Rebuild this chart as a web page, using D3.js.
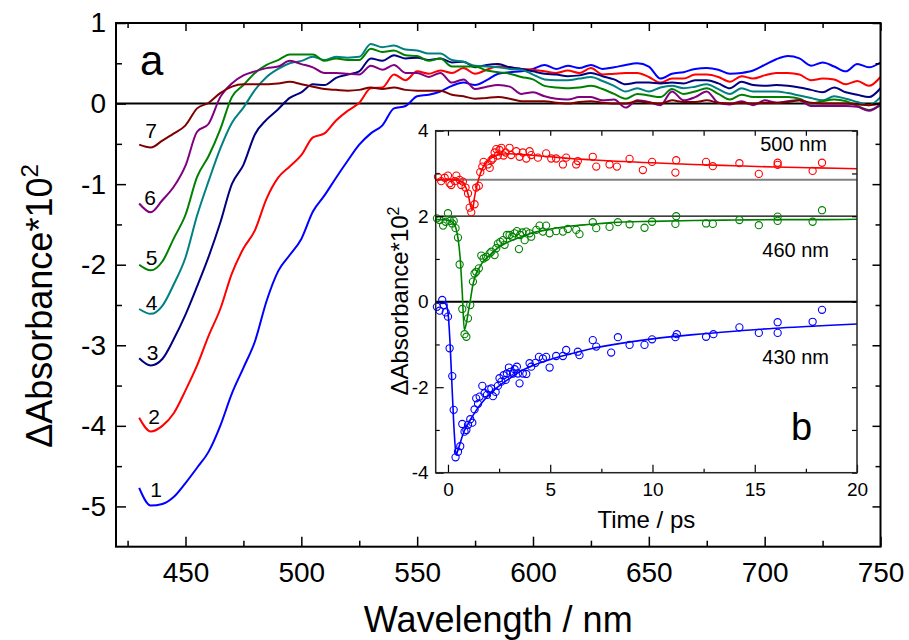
<!DOCTYPE html>
<html><head><meta charset="utf-8">
<script src="https://cdn.jsdelivr.net/npm/d3@7/dist/d3.min.js"></script>
<style>
body{margin:0;background:#fff}
text{font-family:"Liberation Sans",Arial,sans-serif;fill:#000}
</style>
</head><body>
<svg id="c" width="909" height="640"></svg>
<script>
// ---------- main panel (a) data ----------
const wavelengths = [430,435,440,445,450,455,460,465,470,475,480,485,490,495,500,505,510,515,520,525,530,535,540,545,550,555,560,565,570,575,580,585,590,595,600,605,610,615,620,625,630,635,640,645,650,655,660,665,670,675,680,685,690,695,700,705,710,715,720,725,730,735,740,745,750];
const spectrum1 = [-4.77,-4.99,-4.97,-4.88,-4.71,-4.52,-4.32,-4.00,-3.60,-3.28,-2.95,-2.45,-2.08,-1.88,-1.68,-1.34,-1.14,-0.92,-0.71,-0.51,-0.37,-0.27,-0.06,-0.03,0.09,0.11,0.15,0.22,0.26,0.23,0.29,0.37,0.39,0.40,0.43,0.48,0.43,0.47,0.44,0.48,0.43,0.45,0.48,0.50,0.46,0.31,0.37,0.39,0.43,0.44,0.42,0.37,0.38,0.41,0.48,0.55,0.59,0.56,0.47,0.51,0.46,0.40,0.49,0.45,0.51];
const spectrum2 = [-3.90,-4.07,-4.00,-3.84,-3.56,-3.25,-2.88,-2.55,-2.11,-1.80,-1.57,-1.18,-0.92,-0.78,-0.64,-0.42,-0.37,-0.21,-0.09,0.01,0.19,0.20,0.36,0.29,0.40,0.37,0.41,0.38,0.44,0.37,0.42,0.46,0.45,0.43,0.42,0.40,0.38,0.41,0.38,0.44,0.36,0.37,0.38,0.38,0.33,0.26,0.31,0.31,0.36,0.36,0.33,0.27,0.34,0.31,0.35,0.38,0.38,0.36,0.29,0.31,0.30,0.24,0.28,0.22,0.33];
const spectrum3 = [-3.16,-3.25,-3.17,-2.92,-2.62,-2.27,-1.90,-1.48,-1.00,-0.76,-0.38,-0.20,-0.07,0.07,0.14,0.24,0.23,0.32,0.36,0.40,0.56,0.53,0.60,0.56,0.57,0.54,0.56,0.51,0.52,0.45,0.48,0.49,0.45,0.43,0.40,0.37,0.36,0.34,0.35,0.38,0.34,0.30,0.24,0.26,0.26,0.25,0.26,0.25,0.29,0.29,0.25,0.19,0.27,0.23,0.22,0.23,0.22,0.20,0.17,0.14,0.20,0.14,0.11,0.08,0.19];
const spectrum4 = [-2.55,-2.61,-2.51,-2.24,-1.91,-1.39,-0.96,-0.56,-0.24,-0.05,0.17,0.33,0.43,0.50,0.53,0.58,0.54,0.58,0.57,0.58,0.74,0.70,0.72,0.67,0.66,0.62,0.62,0.54,0.52,0.47,0.46,0.45,0.43,0.42,0.36,0.30,0.29,0.29,0.31,0.33,0.28,0.22,0.15,0.19,0.15,0.20,0.22,0.19,0.21,0.24,0.18,0.12,0.19,0.15,0.15,0.15,0.13,0.10,0.07,0.04,0.09,0.06,0.02,-0.02,0.08];
const spectrum5 = [-2.00,-2.07,-1.96,-1.67,-1.38,-0.91,-0.65,-0.32,0.08,0.23,0.38,0.48,0.54,0.61,0.61,0.61,0.53,0.56,0.54,0.54,0.68,0.64,0.66,0.60,0.59,0.53,0.56,0.46,0.46,0.46,0.41,0.39,0.37,0.33,0.30,0.22,0.20,0.19,0.20,0.22,0.18,0.12,0.06,0.12,0.10,0.08,0.18,0.12,0.15,0.19,0.12,0.05,0.11,0.08,0.08,0.08,0.08,0.06,0.00,0.03,0.05,0.03,-0.03,-0.08,-0.02];
const spectrum6 = [-1.24,-1.35,-1.20,-1.03,-0.77,-0.35,-0.25,0.08,0.25,0.35,0.40,0.44,0.46,0.53,0.49,0.45,0.38,0.38,0.37,0.36,0.47,0.42,0.48,0.38,0.38,0.33,0.38,0.26,0.30,0.18,0.21,0.23,0.21,0.12,0.14,0.09,0.06,0.05,0.08,0.08,0.04,0.05,-0.05,0.04,0.02,-0.02,0.15,0.04,0.08,0.15,0.01,-0.01,0.03,-0.02,0.04,0.01,0.03,0.04,-0.03,-0.03,-0.03,-0.03,-0.04,-0.09,-0.01];
const spectrum7 = [-0.51,-0.545,-0.46,-0.37,-0.27,-0.06,0.01,0.13,0.21,0.24,0.24,0.24,0.25,0.27,0.24,0.21,0.18,0.17,0.16,0.17,0.20,0.18,0.20,0.17,0.16,0.16,0.16,0.11,0.09,0.06,0.07,0.08,0.06,0.03,0.03,0.03,0.01,0.00,0.02,0.03,0.01,0.00,0.00,0.03,0.01,0.00,0.04,0.02,0.02,0.04,0.01,0.00,0.01,0.00,0.01,0.01,0.02,0.04,0.01,0.00,0.00,0.00,-0.01,-0.02,0.00];
const spectra = [spectrum1,spectrum2,spectrum3,spectrum4,spectrum5,spectrum6,spectrum7];
const spectrumColors = ["#0000ff","#ff0000","#000080","#008080","#008000","#800080","#800000"];
const curveLabels = ["1","2","3","4","5","6","7"];
const curveLabelWl = [437.3,436.4,435.8,435.4,435.4,434.7,435.1];
const curveLabelVal = [-4.79,-3.88,-3.09,-2.47,-1.91,-1.17,-0.33];
const xMajorTicks = [450,500,550,600,650,700,750];
const xMinorTicks = [425,475,525,575,625,675,725];
const yMajorTicks = [-5,-4,-3,-2,-1,0,1];
const yMinorTicks = [-4.5,-3.5,-2.5,-1.5,-0.5,0.5];

// ---------- inset panel (b) data ----------
const time430 = [-0.54,-0.41,-0.28,-0.21,-0.11,0.0,0.08,0.21,0.28,0.37,0.49,0.60,0.70,0.81,0.90,0.98,1.09,1.19,1.30,1.38,1.47,1.55,1.68,1.79,1.91,2.00,2.12,2.20,2.33,2.44,2.52,2.61,2.72,2.82,2.88,2.98,3.05,3.18,3.26,3.37,3.42,3.50,3.66,3.83,3.99,4.07,4.28,4.45,4.64,4.80,4.97,5.29,5.62,5.78,6.35,6.43,7.08,7.25,7.98,8.31,8.88,9.61,9.98,11.12,11.19,12.62,12.98,14.25,15.20,16.12,16.12,17.83,18.29];
const abs430 = [-0.12,-0.21,0.04,-0.08,-0.25,-0.35,-1.09,-1.74,-2.53,-3.64,-3.51,-3.38,-2.86,-3.04,-3.00,-2.88,-2.75,-2.83,-2.52,-2.26,-2.39,-2.22,-1.97,-2.14,-2.18,-2.05,-2.03,-2.21,-2.11,-1.97,-1.79,-1.87,-1.72,-1.83,-1.68,-1.54,-1.64,-1.68,-1.58,-1.52,-1.68,-1.91,-1.68,-1.69,-1.44,-1.52,-1.43,-1.29,-1.33,-1.29,-1.54,-1.27,-1.27,-1.13,-1.17,-1.25,-0.90,-1.05,-1.19,-0.83,-1.01,-1.01,-0.88,-0.83,-0.76,-0.82,-0.76,-0.60,-0.73,-0.48,-0.73,-0.47,-0.19];
const time460 = [-0.54,-0.41,-0.24,-0.11,0.0,0.11,0.21,0.28,0.37,0.49,0.57,0.70,0.81,0.90,0.98,1.09,1.22,1.30,1.38,1.51,1.63,1.74,1.87,2.04,2.12,2.28,2.36,2.44,2.56,2.69,2.77,2.88,3.01,3.14,3.26,3.37,3.47,3.53,3.63,3.75,3.83,3.99,4.07,4.32,4.48,4.64,4.80,4.97,5.29,5.62,5.86,6.27,6.43,7.08,7.25,7.90,8.31,8.88,9.61,9.98,11.12,11.16,12.62,12.95,14.25,15.20,16.12,16.12,17.83,18.29];
const abs460 = [1.95,1.91,1.78,1.87,2.07,1.89,1.83,1.89,1.72,1.50,0.87,-0.17,-0.76,-0.82,-0.39,-0.08,0.47,0.66,0.70,0.78,1.08,1.01,1.05,1.13,1.17,1.09,1.25,1.36,1.40,1.44,1.33,1.56,1.56,1.52,1.60,1.65,1.23,1.56,1.62,1.44,1.64,1.60,1.52,1.68,1.78,1.64,1.78,1.60,1.65,1.64,1.70,1.68,1.58,1.86,1.72,1.75,1.86,1.81,1.73,1.87,1.82,2.00,1.83,1.82,1.91,1.79,1.99,1.89,1.87,2.14];
const time500 = [-0.49,-0.33,-0.16,0.0,0.08,0.16,0.33,0.41,0.57,0.65,0.73,0.86,0.98,1.06,1.14,1.30,1.38,1.51,1.58,1.68,1.74,1.95,2.04,2.12,2.20,2.28,2.36,2.44,2.52,2.61,2.72,2.82,3.01,3.09,3.34,3.50,3.66,3.83,3.99,4.07,4.40,4.80,5.05,5.29,5.62,5.78,6.27,6.35,7.08,7.25,7.90,8.26,8.88,9.53,9.98,11.12,11.16,12.62,12.95,14.25,15.20,16.12,16.12,17.83,18.29];
const abs500 = [2.92,2.82,2.90,2.95,2.77,2.73,2.82,2.95,2.85,2.73,2.81,2.67,2.53,2.20,2.09,2.28,2.67,2.71,3.03,3.16,3.27,3.21,3.13,3.31,3.35,3.49,3.57,3.42,3.55,3.60,3.42,3.49,3.60,3.43,3.52,3.39,3.49,3.35,3.52,3.43,3.37,3.47,3.35,3.35,3.21,3.37,3.21,3.29,3.39,3.16,3.21,3.16,3.34,3.08,3.27,3.02,3.31,3.27,3.17,3.24,2.99,3.25,3.20,3.06,3.25];
const fitTime = [-0.6,-0.2,-0.1,0,0.1,0.2,0.3,0.4,0.5,0.6,0.7,0.8,0.9,1.0,1.1,1.2,1.3,1.4,1.5,1.7,2.0,2.5,3,3.5,4,5,6,7,8,10,12,14,16,18,20];
const fit430 = [-0.02,-0.03,-0.06,-0.25,-0.95,-2.0,-3.0,-3.58,-3.45,-3.30,-3.15,-3.02,-2.92,-2.84,-2.76,-2.68,-2.60,-2.53,-2.46,-2.34,-2.18,-1.97,-1.80,-1.64,-1.52,-1.35,-1.22,-1.10,-1.01,-0.87,-0.77,-0.69,-0.62,-0.57,-0.52];
const fit460 = [1.92,1.92,1.91,1.90,1.89,1.87,1.82,1.70,1.45,1.00,0.20,-0.66,-0.50,-0.22,0.05,0.35,0.55,0.68,0.77,0.93,1.07,1.28,1.41,1.50,1.59,1.70,1.77,1.81,1.85,1.88,1.90,1.91,1.92,1.92,1.93];
const fit500 = [2.86,2.86,2.86,2.86,2.86,2.86,2.85,2.85,2.84,2.82,2.79,2.74,2.64,2.48,2.25,2.15,2.45,2.68,2.87,3.13,3.32,3.44,3.46,3.45,3.43,3.39,3.35,3.32,3.29,3.25,3.21,3.18,3.15,3.13,3.11];
const insetSeries = [
  {name:"430 nm", color:"#0000ff", t:time430, a:abs430, fit:fit430, labelT:17.0, labelA:-1.45},
  {name:"460 nm", color:"#008000", t:time460, a:abs460, fit:fit460, labelT:17.0, labelA:1.05},
  {name:"500 nm", color:"#ff0000", t:time500, a:abs500, fit:fit500, labelT:16.9, labelA:3.52}
];
const insetRefLines = [0, 2, 2.85];
const insetRefColors = ["#000","#000","#808080"];
const insetRefWidths = [2, 1.2, 2];
const tMajorTicks = [0,5,10,15,20];
const tMinorTicks = [2.5,7.5,12.5,17.5];
const iyMajorTicks = [-4,-2,0,2,4];
const iyMinorTicks = [-3,-1,1,3];

// ---------- drawing ----------
const svg = d3.select("#c");
const FONT = '"Liberation Sans",Arial,sans-serif';
const M = {left:116, right:880.5, top:23, bottom:546.7};
const x = d3.scaleLinear().domain([420,750]).range([M.left, M.right]);
const y = d3.scaleLinear().domain([-5.5,1]).range([M.bottom, M.top]);

function styleAxis(g, fs, sw){
  g.select(".domain").remove();
  g.selectAll(".tick line").attr("stroke","#000").attr("stroke-width",sw);
  g.selectAll(".tick text").attr("font-size",fs).attr("font-family",FONT).attr("fill","#000");
}
const fmt = d => String(d);

// zero line
svg.append("line").attr("x1",x(420)).attr("x2",x(750)).attr("y1",y(0)).attr("y2",y(0))
  .attr("stroke","#000").attr("stroke-width",2);

// spectra
const specLine = d3.line().x((d,i)=>x(wavelengths[i])).y(d=>y(d)).curve(d3.curveMonotoneX);
spectra.forEach((s,k)=>{
  svg.append("path").datum(s).attr("d",specLine).attr("fill","none")
    .attr("stroke",spectrumColors[k]).attr("stroke-width",2).attr("stroke-linejoin","round");
});

// curve number labels
curveLabels.forEach((lab,i)=>{
  svg.append("text").attr("x",x(curveLabelWl[i])).attr("y",y(curveLabelVal[i]))
    .attr("text-anchor","middle").attr("dy","0.36em").attr("font-size",21).text(lab);
});

// main axes
svg.append("g").attr("transform",`translate(0,${M.bottom})`)
  .call(d3.axisBottom(x).tickValues(xMajorTicks).tickSize(-10).tickSizeOuter(0).tickPadding(15).tickFormat(fmt))
  .call(g=>styleAxis(g,28,1.5));
svg.append("g").attr("transform",`translate(0,${M.bottom})`)
  .call(d3.axisBottom(x).tickValues(xMinorTicks).tickSize(-6).tickSizeOuter(0).tickFormat(""))
  .call(g=>styleAxis(g,28,1.5));
svg.append("g").attr("transform",`translate(0,${M.top})`)
  .call(d3.axisTop(x).tickValues(xMajorTicks).tickSize(-8).tickSizeOuter(0).tickFormat(""))
  .call(g=>styleAxis(g,28,1.5));
svg.append("g").attr("transform",`translate(0,${M.top})`)
  .call(d3.axisTop(x).tickValues(xMinorTicks).tickSize(-5).tickSizeOuter(0).tickFormat(""))
  .call(g=>styleAxis(g,28,1.5));
svg.append("g").attr("transform",`translate(${M.left},0)`)
  .call(d3.axisLeft(y).tickValues(yMajorTicks).tickSize(-10).tickSizeOuter(0).tickPadding(10).tickFormat(fmt))
  .call(g=>styleAxis(g,28,1.5));
svg.append("g").attr("transform",`translate(${M.left},0)`)
  .call(d3.axisLeft(y).tickValues(yMinorTicks).tickSize(-6).tickSizeOuter(0).tickFormat(""))
  .call(g=>styleAxis(g,28,1.5));
svg.append("g").attr("transform",`translate(${M.right},0)`)
  .call(d3.axisRight(y).tickValues(yMajorTicks).tickSize(-8).tickSizeOuter(0).tickFormat(""))
  .call(g=>styleAxis(g,28,1.5));
svg.append("g").attr("transform",`translate(${M.right},0)`)
  .call(d3.axisRight(y).tickValues(yMinorTicks).tickSize(-5).tickSizeOuter(0).tickFormat(""))
  .call(g=>styleAxis(g,28,1.5));
svg.append("rect").attr("x",M.left).attr("y",M.top).attr("width",M.right-M.left).attr("height",M.bottom-M.top)
  .attr("fill","none").attr("stroke","#000").attr("stroke-width",2);

// main titles
svg.append("text").attr("x",(M.left+M.right)/2).attr("y",632).attr("text-anchor","middle")
  .attr("font-size",36).text("Wavelength / nm");
const yt = svg.append("text").attr("transform","translate(52,306) rotate(-90)").attr("text-anchor","middle").attr("font-size",36);
yt.append("tspan").text("\u0394Absorbance*10");
yt.append("tspan").attr("font-size",24).attr("dy",-14).text("2");
svg.append("text").attr("x",140).attr("y",75).attr("font-size",42).text("a");

// ---------- inset ----------
const I = {left:435.7, right:857, top:130.7, bottom:472.7};
const xi = d3.scaleLinear().domain([-0.6,20]).range([I.left, I.right]);
const yi = d3.scaleLinear().domain([-4,4]).range([I.bottom, I.top]);
svg.append("rect").attr("x",I.left).attr("y",I.top).attr("width",I.right-I.left).attr("height",I.bottom-I.top)
  .attr("fill","#fff");
insetRefLines.forEach((v,i)=>{
  svg.append("line").attr("x1",xi(-0.6)).attr("x2",xi(20)).attr("y1",yi(v)).attr("y2",yi(v))
    .attr("stroke",insetRefColors[i]).attr("stroke-width",insetRefWidths[i]);
});
const fitLine = d3.line().x((d,i)=>xi(fitTime[i])).y(d=>yi(d)).curve(d3.curveMonotoneX);
insetSeries.forEach(s=>{
  svg.append("g").selectAll("circle").data(s.t.map((t,i)=>[t,s.a[i]])).join("circle")
    .attr("cx",d=>xi(d[0])).attr("cy",d=>yi(d[1])).attr("r",3.6)
    .attr("fill","none").attr("stroke",s.color).attr("stroke-width",1.1);
  svg.append("path").datum(s.fit).attr("d",fitLine).attr("fill","none")
    .attr("stroke",s.color).attr("stroke-width",1.6);
  svg.append("text").attr("x",xi(s.labelT)).attr("y",yi(s.labelA)).attr("text-anchor","middle")
    .attr("font-size",20).text(s.name);
});
svg.append("g").attr("transform",`translate(0,${I.bottom})`)
  .call(d3.axisBottom(xi).tickValues(tMajorTicks).tickSize(-8).tickSizeOuter(0).tickPadding(10).tickFormat(fmt))
  .call(g=>styleAxis(g,19,1.2));
svg.append("g").attr("transform",`translate(0,${I.bottom})`)
  .call(d3.axisBottom(xi).tickValues(tMinorTicks).tickSize(-4).tickSizeOuter(0).tickFormat(""))
  .call(g=>styleAxis(g,19,1.2));
svg.append("g").attr("transform",`translate(0,${I.top})`)
  .call(d3.axisTop(xi).tickValues(tMajorTicks.concat(tMinorTicks)).tickSize(-5).tickSizeOuter(0).tickFormat(""))
  .call(g=>styleAxis(g,19,1.2));
svg.append("g").attr("transform",`translate(${I.left},0)`)
  .call(d3.axisLeft(yi).tickValues(iyMajorTicks).tickSize(-8).tickSizeOuter(0).tickPadding(7).tickFormat(fmt))
  .call(g=>styleAxis(g,19,1.2));
svg.append("g").attr("transform",`translate(${I.left},0)`)
  .call(d3.axisLeft(yi).tickValues(iyMinorTicks).tickSize(-4).tickSizeOuter(0).tickFormat(""))
  .call(g=>styleAxis(g,19,1.2));
svg.append("g").attr("transform",`translate(${I.right},0)`)
  .call(d3.axisRight(yi).tickValues(iyMajorTicks.concat(iyMinorTicks)).tickSize(-5).tickSizeOuter(0).tickFormat(""))
  .call(g=>styleAxis(g,19,1.2));
svg.append("rect").attr("x",I.left).attr("y",I.top).attr("width",I.right-I.left).attr("height",I.bottom-I.top)
  .attr("fill","none").attr("stroke","#222").attr("stroke-width",1.5);
svg.append("text").attr("x",(I.left+I.right)/2).attr("y",528).attr("text-anchor","middle")
  .attr("font-size",24).text("Time / ps");
const iyt = svg.append("text").attr("transform","translate(408,301) rotate(-90)").attr("text-anchor","middle").attr("font-size",24);
iyt.append("tspan").text("\u0394Absorbance*10");
iyt.append("tspan").attr("font-size",16).attr("dy",-9).text("2");
svg.append("text").attr("x",791).attr("y",440).attr("font-size",38).text("b");
</script>
</body></html>
